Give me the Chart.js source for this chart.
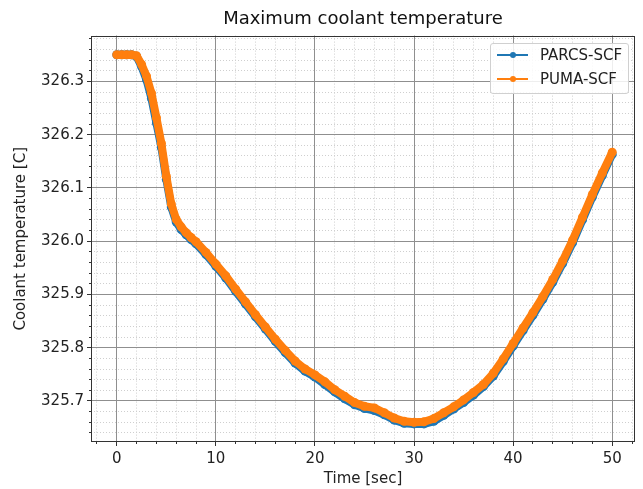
<!DOCTYPE html>
<html>
<head>
<meta charset="utf-8">
<script src="https://cdn.jsdelivr.net/npm/chart.js@4.4.0/dist/chart.umd.min.js"></script>
<style>
  body { margin: 0; background: #fff; }
  #wrap { position: relative; width: 643px; height: 489px; }
  #legend {
    position: absolute; left: 490px; top: 43px; width: 139px; height: 51px;
    box-sizing: border-box; border: 1px solid #d0d0d0; border-radius: 3px;
    background: rgba(255,255,255,0.85);
    font-family: "DejaVu Sans"; font-size: 15px; color: #222;
  }
  .item { position: absolute; left: 6px; height: 20px; display: flex; align-items: center; white-space: nowrap; }
  .swatch { position: relative; width: 31px; height: 2px; margin-right: 12px; }
  .swatch span { position: absolute; left: 12.5px; top: -2.5px; width: 6px; height: 6px; border-radius: 50%; }
</style>
</head>
<body>
<div id="wrap">
  <canvas id="chart" width="643" height="489"></canvas>
  <div id="legend">
    <div class="item" style="top:1px"><div class="swatch" style="background:#1f77b4"><span style="background:#1f77b4"></span></div>PARCS-SCF</div>
    <div class="item" style="top:25px"><div class="swatch" style="background:#ff7f0e"><span style="background:#ff7f0e"></span></div>PUMA-SCF</div>
  </div>
</div>
<script>
// values
const timeSec = [0, 0.5, 1, 1.5, 2, 2.5, 3, 3.5, 4, 4.5, 5, 5.5, 6, 6.5, 7, 7.5, 8,
  9, 10, 11, 12, 13, 14, 15, 16, 17, 18, 19, 20, 21, 22, 23, 24, 25, 26, 27, 28, 29, 30,
  31, 32, 33, 34, 35, 36, 37, 38, 39, 40, 41, 42, 43, 44, 45, 46, 47, 48, 49, 50];

const parcsScf = [326.350, 326.350, 326.350, 326.350, 326.347, 326.328, 326.303, 326.268, 326.222, 326.176,
  326.116, 326.064, 326.036, 326.022, 326.012, 326.003, 325.995,
  325.975, 325.953, 325.931, 325.906, 325.882, 325.858, 325.835, 325.812, 325.791, 325.771,
  325.756, 325.745, 325.731, 325.717, 325.704, 325.693, 325.686, 325.682, 325.674, 325.664,
  325.658, 325.657, 325.657, 325.662, 325.673, 325.685, 325.697, 325.711, 325.727, 325.747,
  325.774, 325.803, 325.832, 325.861, 325.891, 325.923, 325.958, 325.997, 326.040, 326.083,
  326.123, 326.163];

const pumaScf = [326.350, 326.350, 326.350, 326.350, 326.348, 326.332, 326.310, 326.278, 326.232, 326.184,
  326.122, 326.070, 326.041, 326.027, 326.016, 326.007, 325.999,
  325.979, 325.957, 325.935, 325.910, 325.886, 325.862, 325.839, 325.816, 325.795, 325.775,
  325.760, 325.749, 325.736, 325.721, 325.709, 325.697, 325.690, 325.687, 325.678, 325.668,
  325.662, 325.660, 325.661, 325.667, 325.678, 325.689, 325.702, 325.716, 325.731, 325.752,
  325.779, 325.808, 325.837, 325.866, 325.896, 325.928, 325.963, 326.002, 326.045, 326.088,
  326.128, 326.167];

const xTicks = [0, 10, 20, 30, 40, 50];
const yTicks = [325.7, 325.8, 325.9, 326.0, 326.1, 326.2, 326.3];
const xRange = [-2.6, 52.3];
const yRange = [325.623, 326.386];

// minor grid every 2 s and every 0.02 C
const xMinor = [];
for (let v = -2; v <= 52; v += 2) xMinor.push(v);
const yMinor = [];
for (let i = 32; i <= 69; i++) yMinor.push(325 + i * 0.02);

const font = { family: 'DejaVu Sans', size: 15 };
const textColor = '#222';

const frame = {
  id: 'frame',
  afterDatasetsDraw(chart) {
    const { ctx, chartArea: a } = chart;
    ctx.save();
    ctx.strokeStyle = '#333';
    ctx.lineWidth = 1;
    ctx.strokeRect(Math.round(a.left) + 0.5, Math.round(a.top) + 0.5,
      Math.round(a.right - a.left) - 1, Math.round(a.bottom - a.top) - 1);
    ctx.restore();
  }
};

function toPoints(ys) {
  return timeSec.map((t, i) => ({ x: t, y: ys[i] }));
}

new Chart(document.getElementById('chart'), {
  type: 'line',
  data: {
    datasets: [
      {
        label: 'PARCS-SCF',
        data: toPoints(parcsScf),
        borderColor: '#1f77b4',
        backgroundColor: '#1f77b4',
        borderWidth: 8,
        pointRadius: 4.5,
        pointBorderWidth: 0,
        tension: 0,
        order: 1
      },
      {
        label: 'PUMA-SCF',
        data: toPoints(pumaScf),
        borderColor: '#ff7f0e',
        backgroundColor: '#ff7f0e',
        borderWidth: 8,
        pointRadius: 4.5,
        pointBorderWidth: 0,
        tension: 0,
        order: 0
      }
    ]
  },
  options: {
    responsive: false,
    animation: false,
    layout: { padding: { left: 0, right: 8, top: 0, bottom: 0 } },
    plugins: {
      legend: { display: false },
      tooltip: { enabled: false },
      title: {
        display: true,
        fullSize: false,
        text: 'Maximum coolant temperature',
        font: { family: 'DejaVu Sans', size: 18, weight: 'normal' },
        color: '#111',
        padding: { top: 9, bottom: 5 }
      }
    },
    scales: {
      x: {
        type: 'linear',
        position: 'bottom',
        weight: 1,
        min: xRange[0],
        max: xRange[1],
        afterBuildTicks: s => { s.ticks = xTicks.map(v => ({ value: v })); },
        afterFit: s => { s.height = 47; },
        ticks: { font: font, color: textColor, padding: 4, maxRotation: 0, autoSkip: false },
        grid: { color: '#8f8f8f', lineWidth: 1, tickLength: 4, tickColor: '#333' },
        border: { display: false },
        title: { display: true, text: 'Time [sec]', font: font, color: textColor, padding: { top: 0, bottom: 1 } }
      },
      xMinor: {
        type: 'linear',
        position: 'bottom',
        weight: 0,
        min: xRange[0],
        max: xRange[1],
        afterBuildTicks: s => { s.ticks = xMinor.map(v => ({ value: v })); },
        afterFit: s => { s.height = 0; },
        ticks: { display: false },
        grid: { color: '#cfcfcf', lineWidth: 1, tickLength: 2, tickColor: '#333', z: -2 },
        border: { display: false, dash: [1, 2] }
      },
      y: {
        type: 'linear',
        position: 'left',
        weight: 1,
        min: yRange[0],
        max: yRange[1],
        afterBuildTicks: s => { s.ticks = yTicks.map(v => ({ value: v })); },
        afterFit: s => { s.width = 91; },
        ticks: { font: font, color: textColor, padding: 3, autoSkip: false, callback: v => v.toFixed(1) },
        grid: { color: '#8f8f8f', lineWidth: 1, tickLength: 4, tickColor: '#333' },
        border: { display: false },
        title: { display: true, text: 'Coolant temperature [C]', font: font, color: textColor, padding: { top: 12, bottom: 0 } }
      },
      yMinor: {
        type: 'linear',
        position: 'left',
        weight: 0,
        min: yRange[0],
        max: yRange[1],
        afterBuildTicks: s => { s.ticks = yMinor.map(v => ({ value: v })); },
        afterFit: s => { s.width = 0; },
        ticks: { display: false },
        grid: { color: '#cfcfcf', lineWidth: 1, tickLength: 2, tickColor: '#333', z: -2 },
        border: { display: false, dash: [1, 2] }
      }
    }
  },
  plugins: [frame]
});
</script>
</body>
</html>
